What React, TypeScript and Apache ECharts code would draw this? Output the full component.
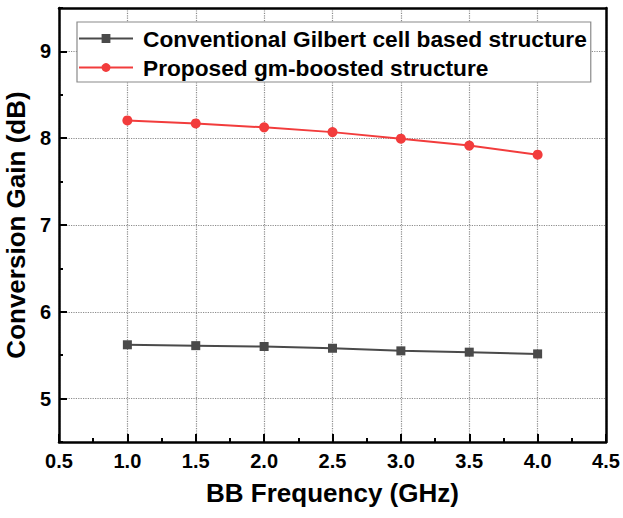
import React, { useEffect, useRef } from "react";
import * as echarts from "echarts";

const freqs = [1.0, 1.5, 2.0, 2.5, 3.0, 3.5, 4.0];
const conventional = [5.62, 5.61, 5.60, 5.58, 5.55, 5.535, 5.515];
const proposed = [8.205, 8.17, 8.125, 8.07, 7.995, 7.915, 7.81];
const yLabelValues = [5, 6, 7, 8, 9];
const seriesNames = ["Conventional Gilbert cell based structure", "Proposed gm-boosted structure"];

const FONT = "'Liberation Sans', Arial, sans-serif";

export default function App() {
  const ref = useRef<HTMLDivElement>(null);
  useEffect(() => {
    if (!ref.current) return;
    const chart = echarts.init(ref.current, null, { renderer: "svg" });
    const dotted = { show: true, lineStyle: { color: "#8c8c8c", type: "dotted", width: 1.2 } };
    const frame = { show: true, onZero: false, lineStyle: { color: "#000", width: 2.5 } };
    chart.setOption({
      animation: false,
      backgroundColor: "#fff",
      grid: {
        left: 59, right: 17, top: 8, bottom: 76,
        outerBoundsMode: "none",
        containLabel: false,
        show: false,
      },
      legend: {
        orient: "vertical",
        left: 77,
        top: 22,
        borderColor: "#8a8a8a",
        borderWidth: 1.2,
        padding: [5, 4, 3, 1],
        itemGap: 6,
        itemWidth: 54,
        itemHeight: 11,
        backgroundColor: "#fff",
        textStyle: { fontFamily: FONT, fontWeight: "bold", fontSize: 22.7, color: "#000", padding: [0, 0, 0, 5] },
        data: seriesNames,
      },
      xAxis: [
        {
          type: "value",
          position: "bottom",
          min: 0.5,
          max: 4.5,
          interval: 0.5,
          name: "BB Frequency (GHz)",
          nameLocation: "middle",
          nameGap: 38,
          nameTextStyle: { fontFamily: FONT, fontWeight: "bold", fontSize: 26, color: "#000" },
          axisLine: frame,
          axisTick: { show: true, inside: true, length: 8, lineStyle: { color: "#000", width: 2 } },
          minorTick: { show: true, splitNumber: 2, length: 4, lineStyle: { color: "#000", width: 2 } },
          axisLabel: { fontFamily: FONT, fontWeight: "bold", fontSize: 20, color: "#000", margin: 9, formatter: (v: number) => v.toFixed(1) },
          splitLine: dotted,
        },
        {
          type: "value",
          position: "top",
          min: 0.5,
          max: 4.5,
          interval: 0.5,
          axisLine: frame,
          axisTick: { show: false },
          axisLabel: { show: false },
          splitLine: { show: false },
        },
      ],
      yAxis: [
        {
          type: "value",
          position: "left",
          min: 4.5,
          max: 9.5,
          interval: 1,
          name: "Conversion Gain (dB)",
          nameLocation: "middle",
          nameGap: 26,
          nameTextStyle: { fontFamily: FONT, fontWeight: "bold", fontSize: 26, color: "#000" },
          axisLine: frame,
          axisTick: { show: true, inside: true, length: 4, lineStyle: { color: "#000", width: 2 } },
          axisLabel: { show: true, customValues: yLabelValues, fontFamily: FONT, fontWeight: "bold", fontSize: 20, color: "#000", margin: 8 },
          splitLine: { show: false },
        },
        {
          type: "value",
          position: "left",
          min: 4.5,
          max: 9.5,
          axisLine: { show: false },
          axisTick: { show: true, inside: true, length: 8, customValues: yLabelValues, lineStyle: { color: "#000", width: 2 } },
          axisLabel: { show: false },
          splitLine: dotted,
        },
        {
          type: "value",
          position: "right",
          min: 4.5,
          max: 9.5,
          axisLine: frame,
          axisTick: { show: false },
          axisLabel: { show: false },
          splitLine: { show: false },
        },
      ],
      series: [
        {
          name: seriesNames[0],
          type: "line",
          data: freqs.map((f, i) => [f, conventional[i]]),
          symbol: "rect",
          symbolSize: 9,
          lineStyle: { color: "#4a4a4a", width: 2 },
          itemStyle: { color: "#4a4a4a" },
          z: 3,
        },
        {
          name: seriesNames[1],
          type: "line",
          data: freqs.map((f, i) => [f, proposed[i]]),
          symbol: "circle",
          symbolSize: 10,
          lineStyle: { color: "#f23c3c", width: 2 },
          itemStyle: { color: "#f23c3c" },
          z: 3,
        },
      ],
    });
    return () => chart.dispose();
  }, []);
  return <div ref={ref} style={{ width: 623, height: 518, position: "fixed", left: 0, top: 0 }} />;
}
